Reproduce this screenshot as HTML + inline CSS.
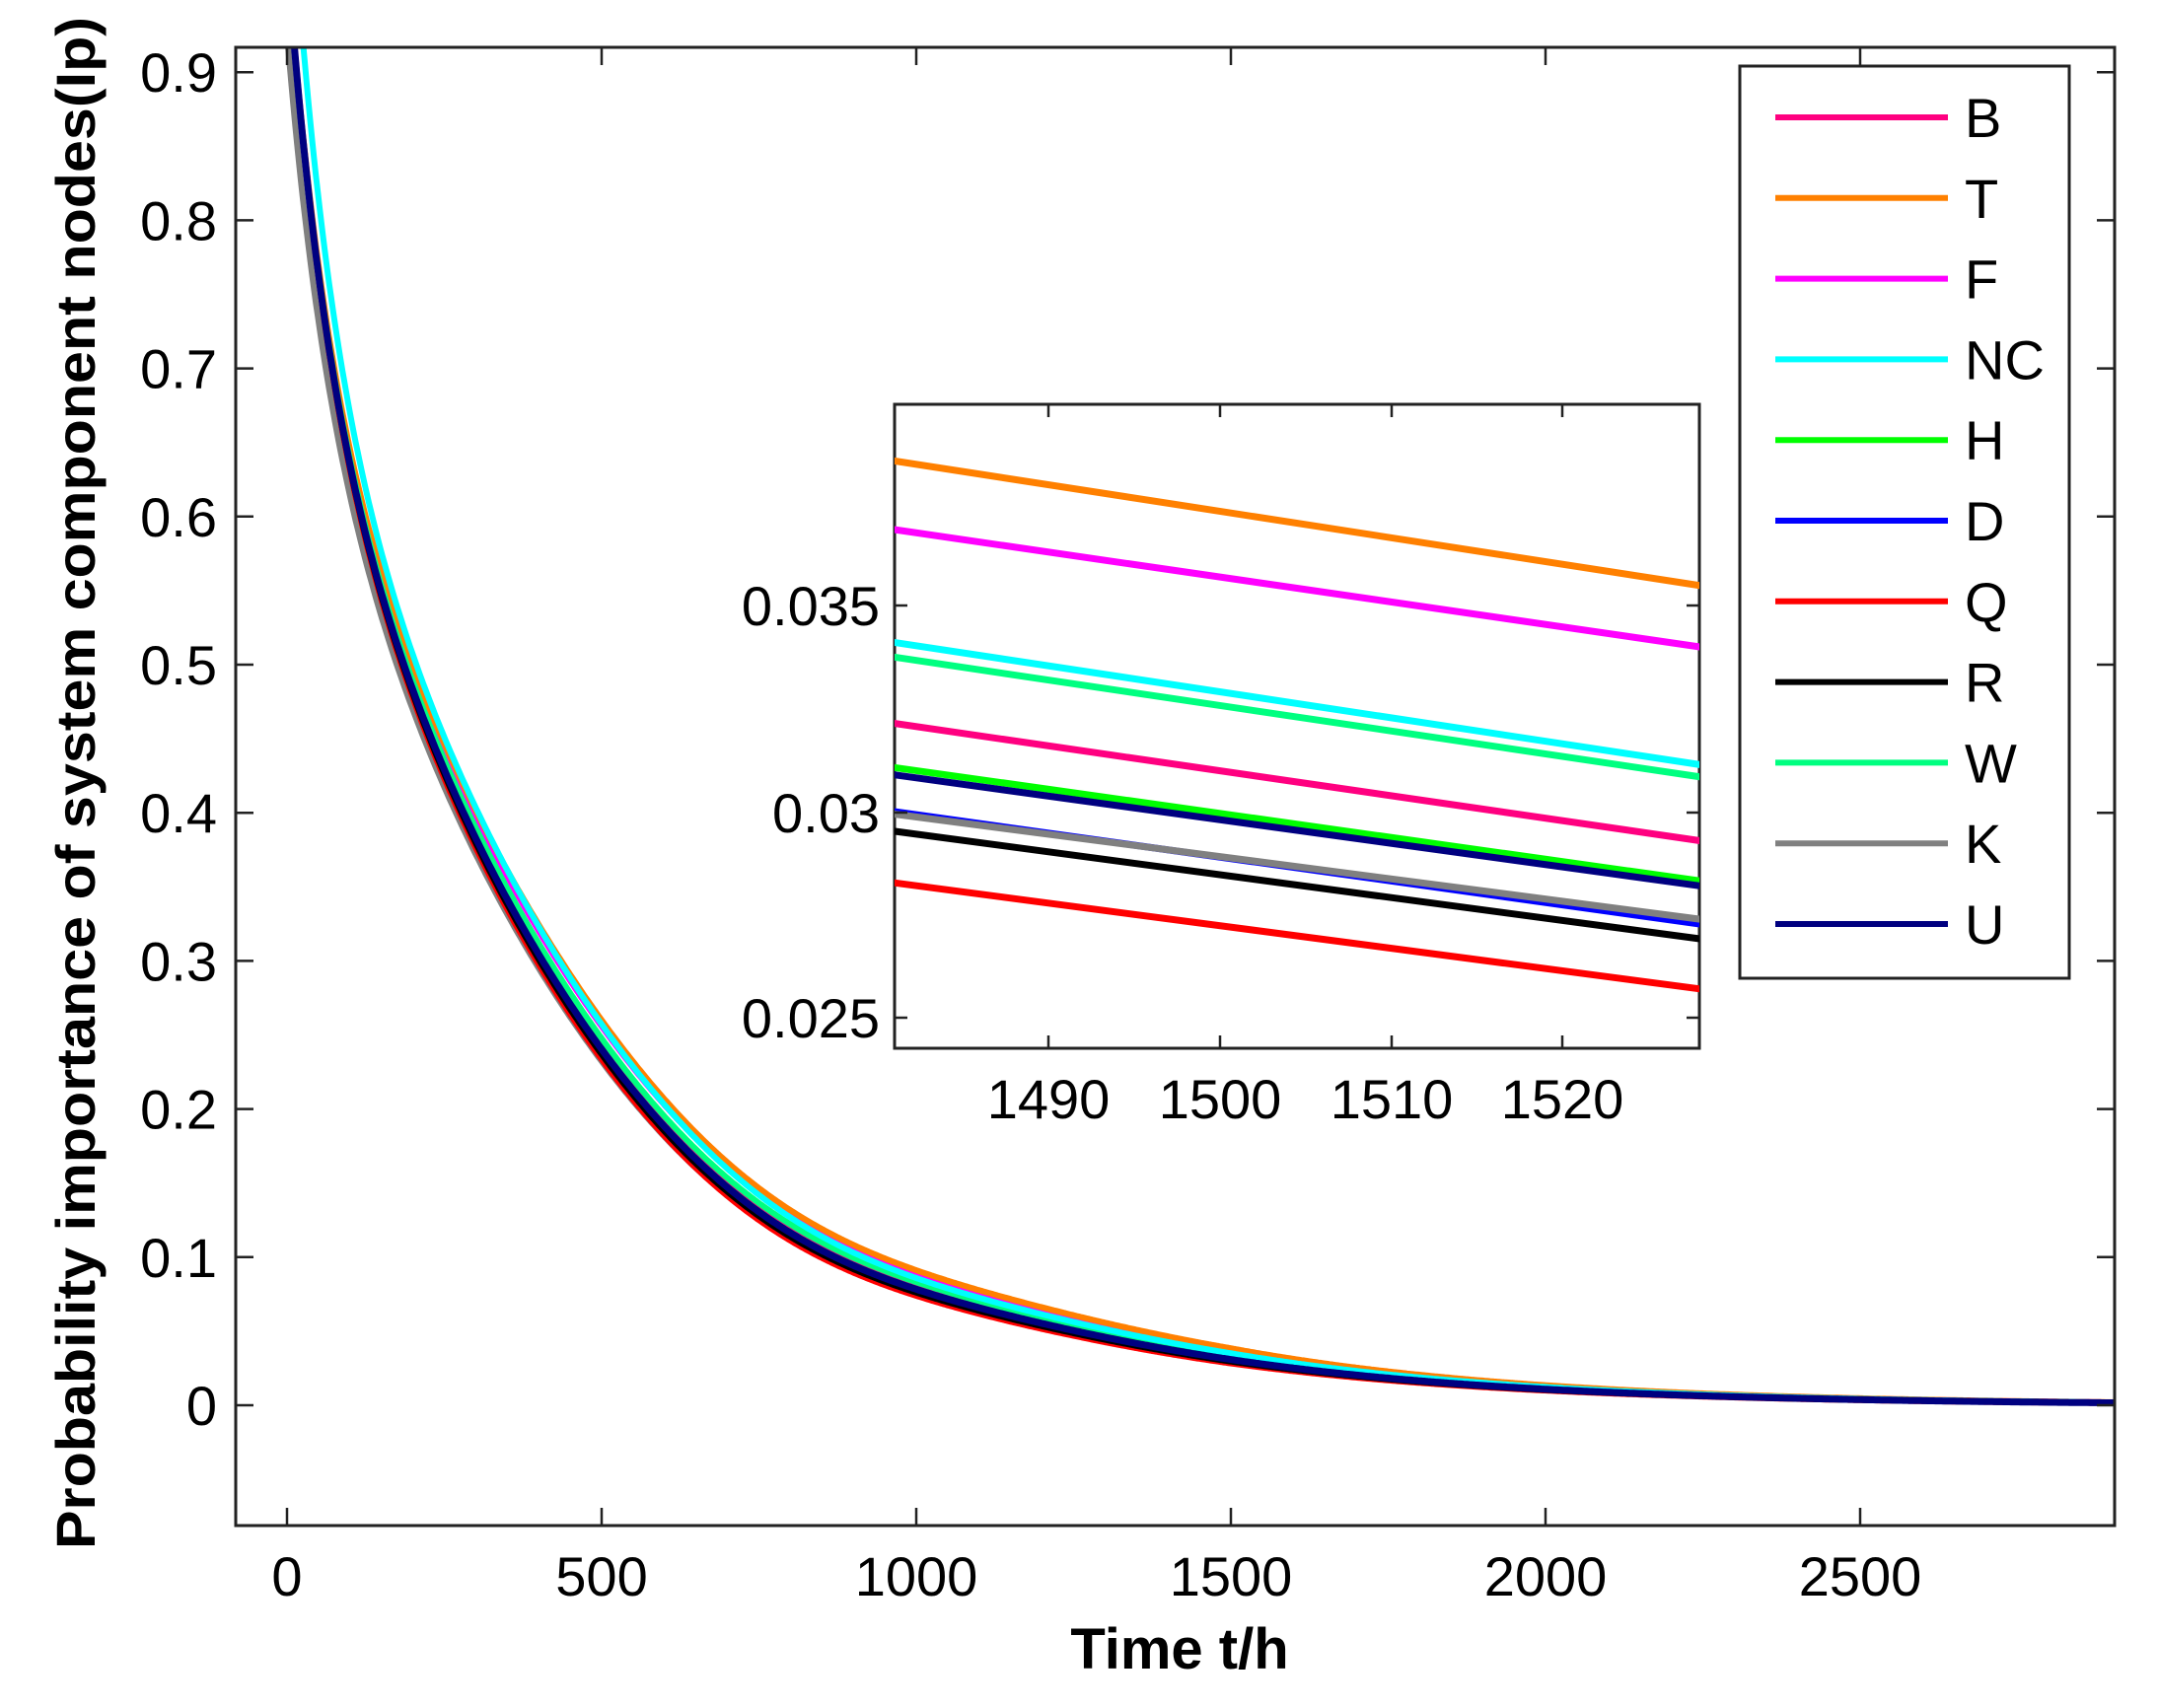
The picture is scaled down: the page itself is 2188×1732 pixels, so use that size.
<!DOCTYPE html>
<html><head><meta charset="utf-8"><style>
html,body{margin:0;padding:0;background:#fff;}
svg{display:block;}
text{font-family:"Liberation Sans",sans-serif;fill:#000;}
</style></head><body>
<svg id="s" width="2188" height="1732" viewBox="0 0 2188 1732" xmlns="http://www.w3.org/2000/svg">
<defs><clipPath id="mc"><rect x="239" y="48" width="1905" height="1499"/></clipPath>
<clipPath id="ic"><rect x="907" y="410" width="816" height="653"/></clipPath></defs>
<g id="main" clip-path="url(#mc)"></g>
<rect x="239" y="48" width="1905" height="1499" fill="none" stroke="#222" stroke-width="3"/>
<g id="ticks" stroke="#222" stroke-width="2.5"></g>
<g id="labels" font-size="56"></g>
<text x="1196" y="1692" font-size="58" font-weight="bold" text-anchor="middle">Time t/h</text>
<text transform="translate(96,794) rotate(-90)" font-size="56" font-weight="bold" text-anchor="middle" textLength="1554" lengthAdjust="spacingAndGlyphs">Probability importance of system component nodes(Ip)</text>
<rect x="907" y="410" width="816" height="653" fill="#fff" stroke="#222" stroke-width="3"/>
<g id="inset" clip-path="url(#ic)"></g>
<g id="iticks" stroke="#222" stroke-width="2.5"></g>
<g id="ilabels" font-size="56"></g>
<rect x="1764" y="67" width="334" height="925" fill="#fff" stroke="#222" stroke-width="3"/>
<g id="legend"></g>
</svg>
<script>
var NS="http://www.w3.org/2000/svg";
function el(p,t,a,txt){var e=document.createElementNS(NS,t);for(var k in a)e.setAttribute(k,a[k]);if(txt!==undefined)e.textContent=txt;document.getElementById(p).appendChild(e);return e;}
var X=function(t){return 291+0.638*t;}, Y=function(v){return 1425-1502*v;};
function base(t){var g=1-0.14*Math.exp(-Math.pow((t-850)/350,2));return g*(0.724*Math.exp(-0.0021*t)+0.256*Math.exp(-0.0165*t));}
var S={B:["#ff0080",1.040,0],T:["#ff8000",1.246,0],F:["#ff00ff",1.193,0],NC:["#00ffff",1.104,14],H:["#00ff00",1.0055,0],D:["#0000ff",0.971,0],Q:["#ff0000",0.915,0],R:["#000000",0.956,0],W:["#00ff80",1.092,0],K:["#808080",0.969,-10],U:["#000080",1,0]};
var order=["K","F","Q","T","B","H","W","NC","D","R","U"];
order.forEach(function(k){var s=S[k],d="";for(var t=-20;t<=2950;t+=3){var f=1+(s[1]-1)*Math.min(1,Math.max(0,t)/1500);var v=base(t-s[2])*f;d+=(d?"L":"M")+X(t).toFixed(1)+","+Y(v).toFixed(1);}
el("main","path",{d:d,fill:"none",stroke:s[0],"stroke-width":k=="U"?7:6,"stroke-linejoin":"round"});});
[0,500,1000,1500,2000,2500].forEach(function(t){var x=X(t);el("ticks","line",{x1:x,y1:1547,x2:x,y2:1529});el("ticks","line",{x1:x,y1:48,x2:x,y2:66});
el("labels","text",{x:x,y:1618,"text-anchor":"middle"},String(t));});
for(var i=0;i<=9;i++){var v=i/10,y=Y(v);el("ticks","line",{x1:239,y1:y,x2:257,y2:y});el("ticks","line",{x1:2144,y1:y,x2:2126,y2:y});
el("labels","text",{x:220,y:y+20,"text-anchor":"end"},i==0?"0":v.toFixed(1));}
var IL=[["#ff8000",467.1,594.0],["#ff00ff",536.8,656.2],["#00ffff",651.2,775.6],["#00ff80",666.1,788.0],["#ff0080",733.3,852.7],["#0000ff",822.8,937.3],["#808080",825.3,932.3],["#00ff00",778.1,893.5],["#000080",785.5,898.5],["#000000",842.7,952.2],["#ff0000",895.0,1003.0]];
IL.forEach(function(l){el("inset","line",{x1:905,y1:l[1],x2:1725,y2:l[2],stroke:l[0],"stroke-width":7});});
[[1490,1063],[1500,1237],[1510,1411],[1520,1584]].forEach(function(a){el("iticks","line",{x1:a[1],y1:1063,x2:a[1],y2:1050});el("iticks","line",{x1:a[1],y1:410,x2:a[1],y2:423});
el("ilabels","text",{x:a[1],y:1134,"text-anchor":"middle"},String(a[0]));});
[["0.035",614],["0.03",824],["0.025",1032]].forEach(function(a){el("iticks","line",{x1:907,y1:a[1],x2:920,y2:a[1]});el("iticks","line",{x1:1723,y1:a[1],x2:1710,y2:a[1]});
el("ilabels","text",{x:892,y:a[1]+20,"text-anchor":"end"},a[0]);});
["B","T","F","NC","H","D","Q","R","W","K","U"].forEach(function(k,i){var y=119+81.8*i;el("legend","line",{x1:1800,y1:y,x2:1975,y2:y,stroke:S[k][0],"stroke-width":6});
el("legend","text",{x:1992,y:y+20,"font-size":56},k);});
</script>
</body></html>
